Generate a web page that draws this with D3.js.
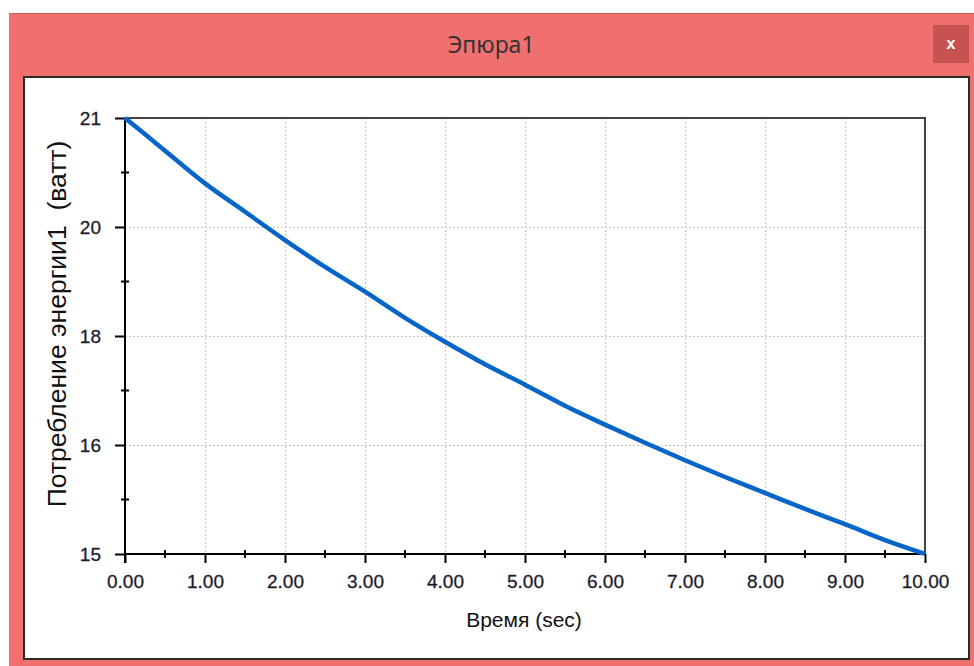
<!DOCTYPE html>
<html>
<head>
<meta charset="utf-8">
<script src="https://cdnjs.cloudflare.com/ajax/libs/d3/7.8.5/d3.min.js"></script>
<style>
html,body{margin:0;padding:0;background:#fff;}
svg{display:block;}
</style>
</head>
<body>
<svg id="chart" width="974" height="666"></svg>
<script>
// ---- data ----
const timeValues = [0, 0.5, 1, 1.5, 2, 2.5, 3, 3.5, 4, 4.5, 5, 5.5, 6, 6.5, 7, 7.5, 8, 8.5, 9, 9.5, 10];
const powerValues = [21, 20.55, 20.10, 19.71, 19.32, 18.95, 18.61, 18.25, 17.92, 17.61, 17.33, 17.04, 16.78, 16.53, 16.29, 16.06, 15.84, 15.62, 15.41, 15.19, 15];
const xTickValues = [0, 1, 2, 3, 4, 5, 6, 7, 8, 9, 10];
const xTickLabels = ["0.00", "1.00", "2.00", "3.00", "4.00", "5.00", "6.00", "7.00", "8.00", "9.00", "10.00"];
const yTickValues = [15, 16.5, 18, 19.5, 21];
const yTickLabels = ["15", "16", "18", "20", "21"];
const xMinorTicks = [0.5, 1.5, 2.5, 3.5, 4.5, 5.5, 6.5, 7.5, 8.5, 9.5];
const yMinorTicks = [15.75, 17.25, 18.75, 20.25];
const windowTitle = "Эпюра1";
const xTitle = "Время (sec)";
const yTitle = "Потребление энергии1  (ватт)";

const svg = d3.select("#chart");
const FONT = "'Liberation Sans', Arial, sans-serif";

// window frame
svg.append("rect").attr("x", 9).attr("y", 13).attr("width", 970).attr("height", 660).attr("fill", "#f07070");
svg.append("line").attr("x1", 9).attr("x2", 974).attr("y1", 13.5).attr("y2", 13.5).attr("stroke", "#c95c5c").attr("stroke-width", 1);
svg.append("rect").attr("x", 933).attr("y", 25).attr("width", 36).attr("height", 38).attr("fill", "#c85252");
svg.append("text").attr("x", 951).attr("y", 49).attr("text-anchor", "middle")
  .attr("font-family", FONT).attr("font-weight", "bold").attr("font-size", 16).attr("fill", "#fff").text("x");
svg.append("text").attr("x", 491).attr("y", 53).attr("text-anchor", "middle")
  .attr("font-family", "'Noto Sans', 'Open Sans', sans-serif").attr("font-size", 23).attr("fill", "#333").text(windowTitle);

// inner panel
svg.append("rect").attr("x", 24).attr("y", 77).attr("width", 945).attr("height", 582)
  .attr("fill", "#fff").attr("stroke", "#2a2a2a").attr("stroke-width", 2);

// scales
const x = d3.scaleLinear().domain([0, 10]).range([125, 925]);
const y = d3.scaleLinear().domain([15, 21]).range([554, 118]);

// grid
const grid = svg.append("g").attr("stroke", "#c4c4c4").attr("stroke-width", 1).attr("stroke-dasharray", "2,2");
grid.selectAll("line.v").data(xTickValues.slice(1, -1)).join("line")
  .attr("x1", d => Math.round(x(d)) + 0.5).attr("x2", d => Math.round(x(d)) + 0.5)
  .attr("y1", y(21)).attr("y2", y(15));
grid.selectAll("line.h").data(yTickValues.slice(1, -1)).join("line")
  .attr("x1", x(0)).attr("x2", x(10))
  .attr("y1", d => Math.round(y(d)) + 0.5).attr("y2", d => Math.round(y(d)) + 0.5);

// border top / right
svg.append("line").attr("x1", x(0)).attr("x2", x(10) + 1).attr("y1", y(21)).attr("y2", y(21)).attr("stroke", "#444").attr("stroke-width", 2);
svg.append("line").attr("x1", x(10)).attr("x2", x(10)).attr("y1", y(21)).attr("y2", y(15)).attr("stroke", "#444").attr("stroke-width", 2);

// axes
const yAxis = d3.axisLeft(y).tickValues(yTickValues).tickSize(10).tickPadding(14)
  .tickFormat((d, i) => yTickLabels[i]);
const xAxis = d3.axisBottom(x).tickValues(xTickValues).tickSize(9).tickPadding(12)
  .tickFormat((d, i) => xTickLabels[i]);

const gy = svg.append("g").attr("transform", `translate(${x(0)},0)`).call(yAxis);
const gx = svg.append("g").attr("transform", `translate(0,${y(15)})`).call(xAxis);
[gx, gy].forEach(g => {
  g.select(".domain").attr("stroke", "#000").attr("stroke-width", 2);
  g.selectAll(".tick line").attr("stroke", "#000").attr("stroke-width", 2);
  g.selectAll(".tick text").attr("font-family", FONT).attr("font-size", 19).attr("fill", "#1c1c30")
    .attr("stroke", "#1c1c30").attr("stroke-width", 0.3);
});
gy.select(".domain").attr("d", `M0,${y(21)}V${y(15) + 9}`);
gx.select(".domain").attr("d", `M${x(0)},0H${x(10)}`);

// minor ticks
svg.append("g").selectAll("line").data(xMinorTicks).join("line")
  .attr("x1", d => x(d)).attr("x2", d => x(d)).attr("y1", y(15) - 4).attr("y2", y(15) + 4)
  .attr("stroke", "#000").attr("stroke-width", 2);
svg.append("g").selectAll("line").data(yMinorTicks).join("line")
  .attr("x1", x(0) - 4).attr("x2", x(0) + 4).attr("y1", d => y(d)).attr("y2", d => y(d))
  .attr("stroke", "#000").attr("stroke-width", 2);

// line
const line = d3.line().x((d, i) => x(timeValues[i])).y(d => y(d)).curve(d3.curveMonotoneX);
svg.append("path").datum(powerValues).attr("d", line)
  .attr("fill", "none").attr("stroke", "#0565c9").attr("stroke-width", 4.5).attr("stroke-linejoin", "round");

// axis titles
svg.append("text").attr("x", 524).attr("y", 627).attr("text-anchor", "middle")
  .attr("font-family", FONT).attr("font-size", 21).attr("fill", "#111").text(xTitle);
svg.append("text").attr("transform", "translate(66,324) rotate(-90)").attr("text-anchor", "middle")
  .style("white-space", "pre")
  .attr("font-family", FONT).attr("font-size", 26.5).attr("fill", "#111").text(yTitle);
</script>
</body>
</html>
